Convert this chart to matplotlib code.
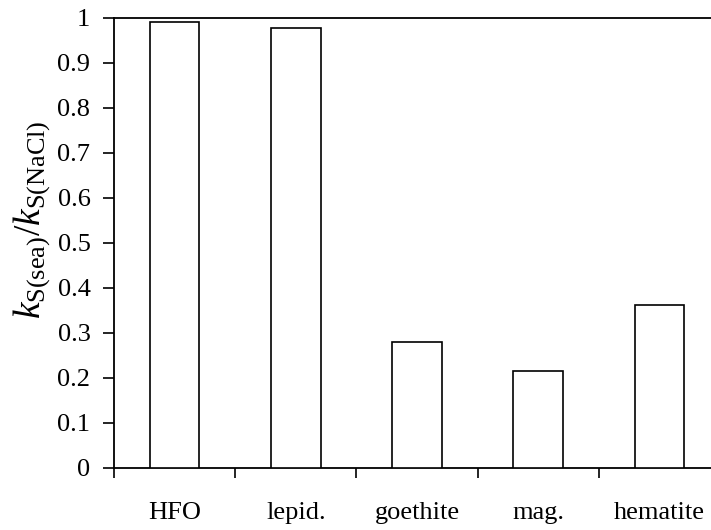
import matplotlib
matplotlib.use("Agg")
import matplotlib.pyplot as plt
import numpy as np

categories = ["HFO", "lepid.", "goethite", "mag.", "hematite"]
values = [0.991, 0.977, 0.280, 0.216, 0.361]
yticks = [0, 0.1, 0.2, 0.3, 0.4, 0.5, 0.6, 0.7, 0.8, 0.9, 1]
ytick_labels = ["0", "0.1", "0.2", "0.3", "0.4", "0.5", "0.6", "0.7", "0.8", "0.9", "1"]

plt.rcParams['font.family'] = ['Liberation Serif', 'DejaVu Serif']
plt.rcParams['mathtext.fontset'] = 'custom'
plt.rcParams['mathtext.rm'] = 'Liberation Serif'
plt.rcParams['mathtext.it'] = 'Liberation Serif:italic'

fig = plt.figure(figsize=(7.11, 5.30), dpi=100)
ax = fig.add_axes([114/711, 1-467.7/530, (720-114)/711, (467.7-17.7)/530])

x = np.arange(len(categories))
ax.bar(x, values, width=0.41, color='white', edgecolor='black', linewidth=1.2, zorder=3)

ax.set_xlim(-0.5, len(categories) - 0.5)
ax.set_ylim(0, 1)
ax.set_yticks(yticks)
ax.set_yticklabels(ytick_labels, fontsize=19)

ax.set_xticks(np.arange(len(categories) + 1) - 0.5)
ax.set_xticklabels([])
ax.set_xticks(x, minor=True)
ax.set_xticklabels(categories, minor=True, fontsize=19)
ax.tick_params(axis='x', which='major', direction='out', length=7, width=1.2)
ax.tick_params(axis='x', which='minor', length=0, pad=25)
ax.tick_params(axis='y', direction='out', length=8, width=1.2, pad=9)

for s in ['left', 'bottom', 'top']:
    ax.spines[s].set_linewidth(1.3)
    ax.spines[s].set_color('black')
ax.spines['right'].set_visible(False)

ax.set_ylabel(r'$k_{\mathrm{S(sea)}}/k_{\mathrm{S(NaCl)}}$', fontsize=27)
ax.yaxis.set_label_coords(-0.102, 0.55)

fig.savefig("out.png", dpi=100)
